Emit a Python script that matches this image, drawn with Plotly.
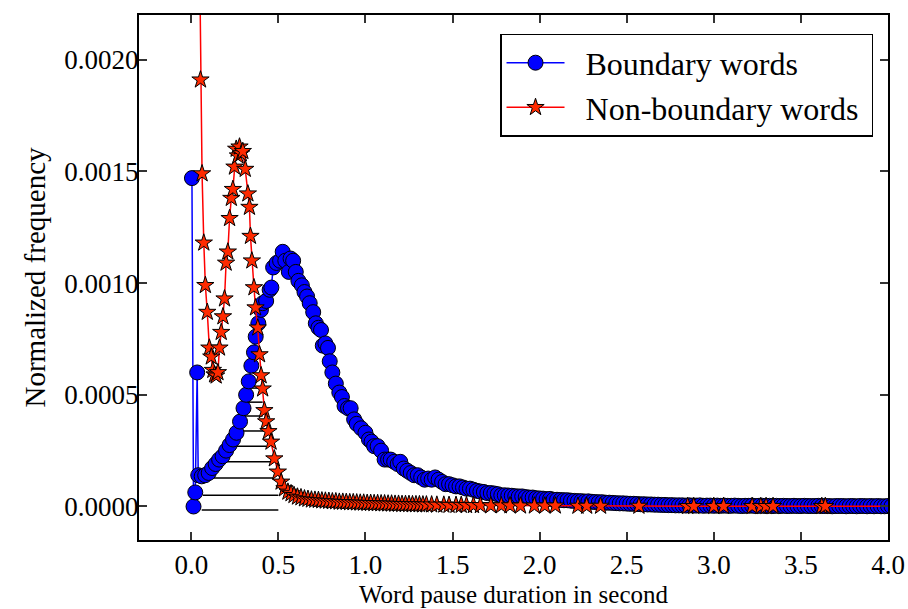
import plotly.graph_objects as go

# ---------------- data ----------------
blue_x = [0.004, 0.013, 0.023, 0.034, 0.04,
          0.06, 0.08, 0.10, 0.12, 0.14, 0.16, 0.18, 0.20, 0.22, 0.24, 0.26, 0.28, 0.30,
          0.315, 0.33, 0.345, 0.36, 0.37, 0.385, 0.40, 0.41, 0.43, 0.45, 0.46, 0.47,
          0.49, 0.51, 0.525, 0.54, 0.56, 0.57, 0.585, 0.60, 0.615, 0.635, 0.65, 0.665,
          0.68, 0.70, 0.715, 0.73, 0.745, 0.755, 0.77, 0.785, 0.795, 0.81, 0.83, 0.85,
          0.865, 0.88, 0.90, 0.915, 0.935, 0.95, 0.975, 1.00, 1.02, 1.035, 1.05, 1.07,
          1.09, 1.11, 1.13, 1.145, 1.165, 1.185, 1.20, 1.22, 1.24, 1.26, 1.28, 1.30,
          1.32, 1.34, 1.36, 1.38, 1.40, 1.42, 1.44, 1.46, 1.48, 1.50, 1.52, 1.54, 1.56,
          1.58, 1.60, 1.62, 1.64, 1.66, 1.68, 1.70, 1.72, 1.74, 1.76, 1.78, 1.80, 1.82,
          1.84, 1.86, 1.88, 1.90, 1.92, 1.94, 1.96, 1.98, 2.00, 2.02, 2.04, 2.06, 2.08,
          2.10, 2.12, 2.14, 2.16, 2.18, 2.20, 2.22, 2.24, 2.26, 2.28, 2.30, 2.32, 2.34,
          2.36, 2.38, 2.40, 2.42, 2.44, 2.46, 2.48, 2.50, 2.52, 2.54, 2.56, 2.58, 2.60,
          2.62, 2.64, 2.66, 2.68, 2.70, 2.72, 2.74, 2.76, 2.78, 2.80, 2.82, 2.84, 2.86,
          2.88, 2.90, 2.92, 2.94, 2.96, 2.98, 3.00, 3.02, 3.04, 3.06, 3.08, 3.10, 3.12,
          3.14, 3.16, 3.18, 3.20, 3.22, 3.24, 3.26, 3.28, 3.30, 3.32, 3.34, 3.36, 3.38,
          3.40, 3.42, 3.44, 3.46, 3.48, 3.50, 3.52, 3.54, 3.56, 3.58, 3.60, 3.62, 3.64,
          3.66, 3.68, 3.70, 3.72, 3.74, 3.76, 3.78, 3.80, 3.82, 3.84, 3.86, 3.88, 3.90,
          3.92, 3.94, 3.96, 3.98, 4.00, 4.02]
blue_y = [0.00147, 0.0, 0.000063, 0.0006, 0.00014,
          0.000135, 0.00014, 0.00015, 0.000172, 0.00019, 0.00021, 0.000225, 0.00025,
          0.000275, 0.0003, 0.00033, 0.00038, 0.00044,
          0.0005, 0.00056, 0.00063, 0.00069, 0.00076, 0.00082, 0.00088, 0.00091, 0.00092,
          0.00097, 0.00098, 0.00107,
          0.00109, 0.0011, 0.00114, 0.0011, 0.00105, 0.00111, 0.0011, 0.00105, 0.00101,
          0.00099, 0.00096, 0.00094,
          0.00091, 0.00087, 0.00082, 0.0008, 0.00079, 0.00072, 0.00073, 0.00071, 0.00065,
          0.0006, 0.00055, 0.00051,
          0.00049, 0.00045, 0.00044, 0.00044, 0.00039, 0.00037, 0.00035, 0.00033, 0.0003,
          0.00029, 0.00027, 0.00027,
          0.00025, 0.00021, 0.00021, 0.00021, 0.0002, 0.00019, 0.0002, 0.00017, 0.00016,
          0.00015, 0.00014, 0.00014,
          0.00013, 0.00012, 0.000125, 0.00012, 0.00013, 0.00012, 0.00011, 0.0001, 0.0001,
          0.000095, 0.00009, 0.00009, 0.000085,
          0.00008, 0.00008, 0.000075, 0.00007, 0.000067, 0.000065, 0.00006, 0.00006,
          0.000058, 0.000055, 0.00005, 0.00005, 0.000049,
          0.000048, 0.000046, 0.000045, 0.000045, 0.000042, 0.00004, 0.00004, 0.000037,
          0.000036, 0.000035, 0.000033, 0.000034, 0.00003,
          0.00003, 0.000029, 0.000028, 0.000028, 0.000026, 0.000025, 0.000024, 0.000024,
          0.000022, 0.000023, 0.000021, 0.00002, 0.000019,
          0.000019, 0.000017, 0.000017, 0.000016, 0.000015, 0.000014, 0.000014, 0.000013,
          0.000012, 0.000012, 0.000011, 0.00001, 0.00001,
          0.000009, 0.000009, 0.000008, 0.000008, 0.000007, 0.000007, 0.000006, 0.000006,
          0.000005, 0.000005, 0.000005, 0.000004, 0.000005,
          0.000004, 0.000004, 0.000005, 0.000003, 0.000004, 0.000004, 0.000003, 0.000004,
          0.000003, 0.000004, 0.000003, 0.000003, 0.000004,
          0.000003, 0.000002, 0.000003, 0.000003, 0.000004, 0.000002, 0.000003, 0.000003,
          0.000002, 0.000003, 0.000002, 0.000003, 0.000002,
          0.000003, 0.000002, 0.000002, 0.000003, 0.000002, 0.000002, 0.000003, 0.000002,
          0.000002, 0.000002, 0.000003, 0.000002, 0.000002,
          0.000002, 0.000001, 0.000002, 0.000002, 0.000002, 0.000001, 0.000002, 0.000002,
          0.000001, 0.000002, 0.000002, 0.000001, 0.000002,
          0.000001, 0.000002, 0.000001, 0.000001, 0.000002, 0.000001]

red_x = [0.040, 0.053, 0.062, 0.072, 0.081, 0.092, 0.104, 0.115, 0.124, 0.134, 0.143,
         0.153, 0.162, 0.172, 0.182, 0.191, 0.200, 0.210, 0.220, 0.230, 0.239, 0.248,
         0.258, 0.268, 0.277, 0.287, 0.296, 0.310, 0.325, 0.334, 0.340, 0.348, 0.360,
         0.369, 0.382, 0.392, 0.401, 0.410, 0.420, 0.430, 0.443, 0.458, 0.477, 0.497,
         0.516, 0.535, 0.555, 0.573, 0.59, 0.61, 0.63, 0.65, 0.67, 0.69, 0.71, 0.73,
         0.75, 0.77, 0.79, 0.81, 0.83, 0.85, 0.87, 0.89, 0.91, 0.93, 0.95, 0.97, 0.99,
         1.01, 1.03, 1.05, 1.07, 1.09, 1.11, 1.13, 1.15, 1.17, 1.19, 1.21, 1.23, 1.25,
         1.27, 1.29, 1.31, 1.33, 1.35, 1.38, 1.41, 1.45, 1.48, 1.52, 1.55, 1.58, 1.62,
         1.66, 1.72, 1.78, 1.83, 1.89, 1.97, 2.03, 2.09, 2.22, 2.27, 2.35, 2.57, 2.85,
         2.885, 3.0, 3.056, 3.22, 3.27, 3.30, 3.34, 3.62, 3.64, 4.3]
red_y = [0.0030, 0.00191, 0.00149, 0.00118, 0.00099, 0.00087, 0.00071, 0.00067, 0.00061,
         0.00059, 0.000585, 0.0006, 0.00071, 0.00078, 0.00085, 0.00093, 0.00109, 0.00114,
         0.00129, 0.00138, 0.00142, 0.00152, 0.0016, 0.00157, 0.00161, 0.00158, 0.00159,
         0.00151, 0.0014, 0.00134, 0.00121, 0.0011, 0.00098, 0.00089, 0.0008, 0.00068,
         0.000586, 0.000527, 0.00043, 0.00038, 0.000336, 0.000289, 0.000214, 0.000155,
         0.00011, 0.00008, 0.000065, 0.000058, 0.00005, 0.000043, 0.00004, 0.000035,
         0.000033, 0.00003, 0.000029, 0.000028,
         0.000026, 0.000025, 0.000024, 0.000022, 0.000022, 0.00002, 0.00002, 0.000019,
         0.000018, 0.000018, 0.000017, 0.000016, 0.000016,
         0.000015, 0.000015, 0.000014, 0.000014, 0.000013, 0.000013, 0.000012, 0.000012,
         0.000011, 0.000011, 0.00001, 0.00001, 0.00001,
         0.000009, 0.000009, 0.000009, 0.000008, 0.000008, 0.000008, 0.000007, 0.000007,
         0.000006, 0.000006, 0.000006, 0.000005, 0.000005,
         0.000005, 0.000004, 0.000004, 0.000004, 0.000003, 0.000003, 0.000003, 0.000003,
         0.000002, 0.000002, 0.000002, 0.000002, 0.000001,
         0.000001, 0.000001, 0.000001, 0.000001, 0.000001, 0.000001, 0.000001, 0.000001,
         0.000001, 0.000001]

# horizontal black guide lines seen under the curves
hline_y = [-0.000016, 0.00005, 0.000128, 0.0002, 0.00027, 0.000338, 0.000405, 0.000467, 0.00053]
hline_x0 = [0.06, 0.067, 0.13, 0.19, 0.22, 0.25, 0.27, 0.30, 0.33]
hline_x1 = [0.50, 0.50, 0.47, 0.458, 0.43, 0.42, 0.41, 0.41, 0.40]

series_names = ["Boundary words", "Non-boundary words"]
x_ticks = [0.0, 0.5, 1.0, 1.5, 2.0, 2.5, 3.0, 3.5, 4.0]
y_ticks = [0.0, 0.0005, 0.0010, 0.0015, 0.0020]

# ---------------- figure ----------------
hx, hy = [], []
for y, a, b in zip(hline_y, hline_x0, hline_x1):
    hx += [a, b, None]
    hy += [y, y, None]

nb = "\u00a0"

fig = go.Figure()
fig.add_trace(go.Scatter(x=hx, y=hy, mode="lines", line=dict(color="black", width=1.5),
                         showlegend=False, hoverinfo="skip"))
fig.add_trace(go.Scatter(
    x=blue_x, y=blue_y, mode="lines+markers", name=nb * 2 + series_names[0] + nb,
    line=dict(color="#0000ff", width=1.5),
    marker=dict(symbol="circle", size=15, color="#0000ff",
                line=dict(color="black", width=1)),
))
fig.add_trace(go.Scatter(
    x=red_x, y=red_y, mode="lines+markers", name=nb * 2 + series_names[1] + nb,
    line=dict(color="#ff0000", width=1.5),
    marker=dict(symbol="star", size=13, color="#ff2a00",
                line=dict(color="black", width=1)),
))

font_family = "Liberation Serif, Times New Roman, serif"
axis_common = dict(
    showline=True, linecolor="black", linewidth=2, mirror="ticks",
    ticks="inside", ticklen=8, tickwidth=1.5, tickcolor="#333333",
    showgrid=False, zeroline=False, automargin=False,
    tickfont=dict(family=font_family, size=27, color="black"),
)
fig.update_xaxes(range=[-0.3, 4.0], tickvals=x_ticks, tickformat=".1f",
                 title=dict(text="Word pause duration in second",
                            font=dict(family=font_family, size=25, color="black"),
                            standoff=6),
                 **axis_common)
fig.update_yaxes(range=[-0.00015, 0.0022], tickvals=y_ticks, tickformat=".4f",
                 ticklabelstandoff=-7,
                 title=dict(text="Normalized frequency",
                            font=dict(family=font_family, size=29, color="black"),
                            standoff=10),
                 **axis_common)

fig.update_layout(
    width=908, height=609,
    margin=dict(l=139, r=20, t=15, b=69),
    paper_bgcolor="white", plot_bgcolor="white",
    font=dict(family=font_family, color="black"),
    showlegend=True,
    legend=dict(x=0.98, y=0.964, xanchor="right", yanchor="top",
                bgcolor="white", bordercolor="black", borderwidth=1.5,
                font=dict(family=font_family, size=32, color="black"),
                itemwidth=58),
)

fig.write_html("out.html",
               config={"displayModeBar": False},
               post_script="document.body.style.margin='0px';"
                           "document.body.style.overflow='hidden';")
